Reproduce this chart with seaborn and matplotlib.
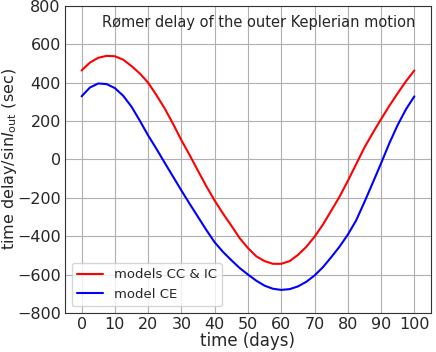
import numpy as np
import pandas as pd
import matplotlib
matplotlib.use("Agg")
import matplotlib.pyplot as plt
import seaborn as sns

# time in days (every 2.5 days)
time = [0, 2.5, 5, 7.5, 10, 12.5, 15, 17.5, 20, 22.5, 25, 27.5, 30, 32.5, 35,
        37.5, 40, 42.5, 45, 47.5, 50, 52.5, 55, 57.5, 60, 62.5, 65, 67.5, 70,
        72.5, 75, 77.5, 80, 82.5, 85, 87.5, 90, 92.5, 95, 97.5, 100]

# Romer delay / sin I_out (sec), models CC & IC
delay_cc_ic = [464, 505, 530, 540, 538, 520, 487, 448, 400, 335, 265, 185, 100,
               22, -60, -140, -215, -282, -345, -410, -462, -505, -530, -544,
               -544, -530, -498, -456, -403, -340, -268, -195, -112, -25, 62,
               138, 210, 280, 345, 408, 464]

# model CE
delay_ce = [329, 375, 396, 393, 372, 332, 275, 202, 125, 55, -18, -90, -162,
            -232, -300, -368, -432, -482, -525, -566, -600, -632, -658, -674,
            -680, -676, -662, -638, -605, -562, -510, -455, -392, -318, -222,
            -122, -20, 85, 180, 262, 329]

labels = ["models CC & IC", "model CE"]
colors = {"models CC & IC": "red", "model CE": "blue"}

df = pd.concat([
    pd.DataFrame({"time": time, "delay": delay_cc_ic, "model": labels[0]}),
    pd.DataFrame({"time": time, "delay": delay_ce, "model": labels[1]}),
])

sns.set_style("ticks")
plt.rcParams["font.family"] = ["DejaVu Sans"]

fig, ax = plt.subplots(figsize=(4.36, 3.52), dpi=100)
fig.subplots_adjust(left=0.149, right=0.9885, top=0.983, bottom=0.111)

sns.lineplot(data=df, x="time", y="delay", hue="model", palette=colors,
             linewidth=1.5, ax=ax, sort=False)

ax.set_xlim(-5, 105)
ax.set_ylim(-800, 800)
ax.set_xticks(np.arange(0, 101, 10))
ax.set_yticks(np.arange(-800, 801, 200))
ax.tick_params(labelsize=11.5, length=0, pad=3)
ax.grid(True, color="#b0b0b0", linewidth=0.8)
for s in ax.spines.values():
    s.set_color("#333333")

ax.set_xlabel("time (days)", fontsize=12, labelpad=0)
ax.set_ylabel(r"time delay/sin$I_{\rm out}$ (sec)", fontsize=11.5)
ax.yaxis.label.set_va("center")
ax.yaxis.set_label_coords(-0.152, 0.5)

ax.text(0.957, 0.972, "Rømer delay of the outer Keplerian motion",
        transform=ax.transAxes, ha="right", va="top", fontsize=10.5)

handles, labs = ax.get_legend_handles_labels()
ax.legend(handles, labs, loc="lower left", fontsize=9.5)

fig.savefig("out.png", dpi=100)
